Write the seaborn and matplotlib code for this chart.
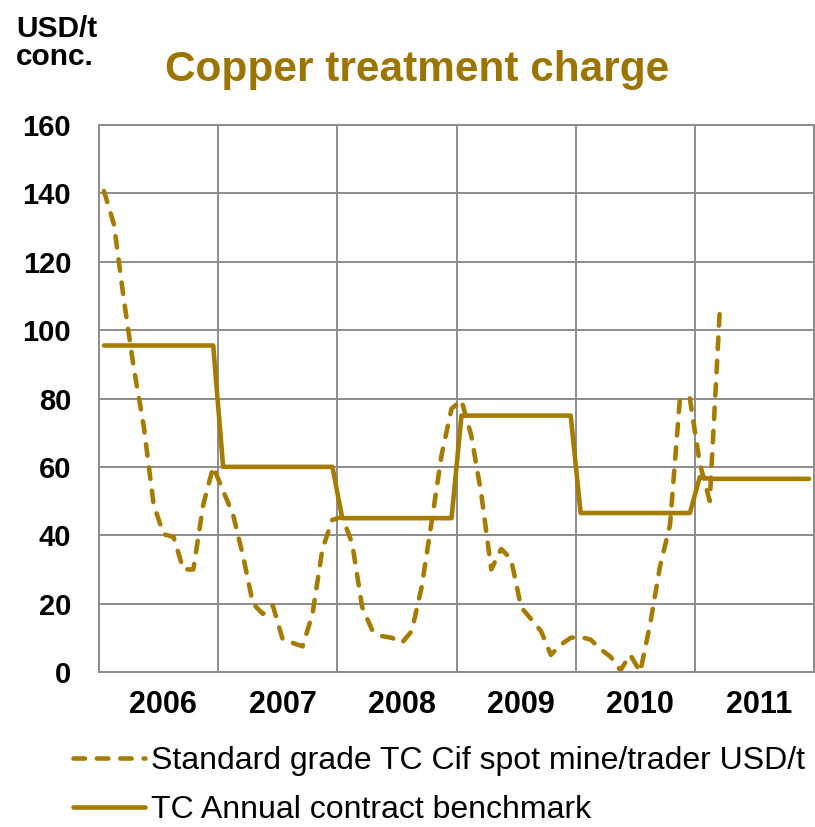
import numpy as np
import pandas as pd
import matplotlib
matplotlib.use("Agg")
import matplotlib.pyplot as plt
import seaborn as sns
from matplotlib.ticker import FixedLocator

# Monthly values, Jan 2006 onwards (USD/t conc.)
spot_tc = [
    140.7, 131, 109, 89, 72, 49, 40.3, 39.5, 30, 30, 49, 60,        # 2006
    53, 46, 34, 20, 17, 19.5, 9.5, 8.5, 7.5, 17, 36, 44.5,           # 2007
    45.4, 37.5, 19, 12.3, 10.5, 10, 8.5, 12, 25, 44, 63.5, 77,       # 2008
    79.5, 69, 52, 30, 36, 33, 19, 15.5, 12, 5, 8, 10,                # 2009
    10.2, 9.5, 6.7, 4.5, 0.5, 5, 0, 14, 31, 43, 80, 80,              # 2010
    61, 50, 105,                                                     # 2011
]
benchmark_tc = [
    95.5, 95.5, 95.5, 95.5, 95.5, 95.5, 95.5, 95.5, 95.5, 95.5, 95.5, 95.5,
    60, 60, 60, 60, 60, 60, 60, 60, 60, 60, 60, 60,
    45, 45, 45, 45, 45, 45, 45, 45, 45, 45, 45, 45,
    75, 75, 75, 75, 75, 75, 75, 75, 75, 75, 75, 75,
    46.5, 46.5, 46.5, 46.5, 46.5, 46.5, 46.5, 46.5, 46.5, 46.5, 46.5, 46.5,
    57, 56.5, 56.5, 56.5, 56.5, 56.5, 56.5, 56.5, 56.5, 56.5, 56.5, 56.5,
]
years = [2006, 2007, 2008, 2009, 2010, 2011]
spot_label = "Standard grade TC Cif spot mine/trader USD/t"
bench_label = "TC Annual contract benchmark"

# month index -> position in the middle of each month slot
def month_pos(n):
    idx = np.arange(n)
    return years[0] + (idx + 0.5) / 12

spot_df = pd.DataFrame({"x": month_pos(len(spot_tc)), "tc": spot_tc})
bench_df = pd.DataFrame({"x": month_pos(len(benchmark_tc)), "tc": benchmark_tc})

sns.set_style("white")
plt.rcParams["font.family"] = ["Liberation Sans", "DejaVu Sans"]
plt.rcParams["text.color"] = "black"

gold = "#A57C00"
grid_col = "#8C8C8C"

fig = plt.figure(figsize=(8.15, 8.27), dpi=100)
ax = fig.add_axes([99 / 815, 1 - 672 / 827, 715 / 815, 547 / 827])

sns.lineplot(data=spot_df, x="x", y="tc", ax=ax, color=gold, lw=3.3,
             label=spot_label, clip_on=False)
sns.lineplot(data=bench_df, x="x", y="tc", ax=ax, color=gold, lw=3.3,
             label=bench_label, clip_on=False)
ax.lines[0].set_dashes((2.5, 2.6))
ax.lines[0].set_dash_capstyle("round")
ax.lines[1].set_solid_joinstyle("round")

ax.set_xlim(years[0], years[-1] + 1)
ax.set_ylim(0, 160)
ax.set_yticks(np.arange(0, 161, 20))
ax.xaxis.set_major_locator(FixedLocator(np.arange(years[0], years[-1] + 2)))
ax.set_xticklabels([])
ax.xaxis.set_minor_locator(FixedLocator([y + 0.54 for y in years]))
ax.set_xticklabels([str(y) for y in years], minor=True,
                   fontsize=22, fontweight="bold")
ax.tick_params(axis="x", which="both", length=0, pad=13, labelcolor="black")
ax.tick_params(axis="y", length=7, width=1.2, color=grid_col, pad=13,
               labelsize=21, labelcolor="black")
for lbl in ax.get_yticklabels():
    lbl.set_fontweight("bold")
ax.set_xlabel("")
ax.set_ylabel("")
ax.grid(True, which="major", color=grid_col, lw=1.4)
for sp in ax.spines.values():
    sp.set_color(grid_col)
    sp.set_linewidth(1.4)

fig.text(165 / 815, 1 - 81 / 827, "Copper treatment charge", color="#9C7400",
         fontsize=30.5, fontweight="bold", ha="left", va="baseline")
fig.text(16 / 815, 1 - 37 / 827, "USD/t", fontsize=21.5, fontweight="bold",
         ha="left", va="baseline")
fig.text(16 / 815, 1 - 65 / 827, "conc.", fontsize=21.5, fontweight="bold",
         ha="left", va="baseline")

handles, labels = ax.get_legend_handles_labels()
ax.legend_.remove()
fig.legend(handles, labels, loc="upper left", bbox_to_anchor=(73 / 815, 1 - 746 / 827),
           frameon=False, fontsize=23, handlelength=2.25, handletextpad=0.2,
           borderpad=0, borderaxespad=0, labelspacing=0.6)

plt.savefig("out.png", dpi=100)
plt.close()
